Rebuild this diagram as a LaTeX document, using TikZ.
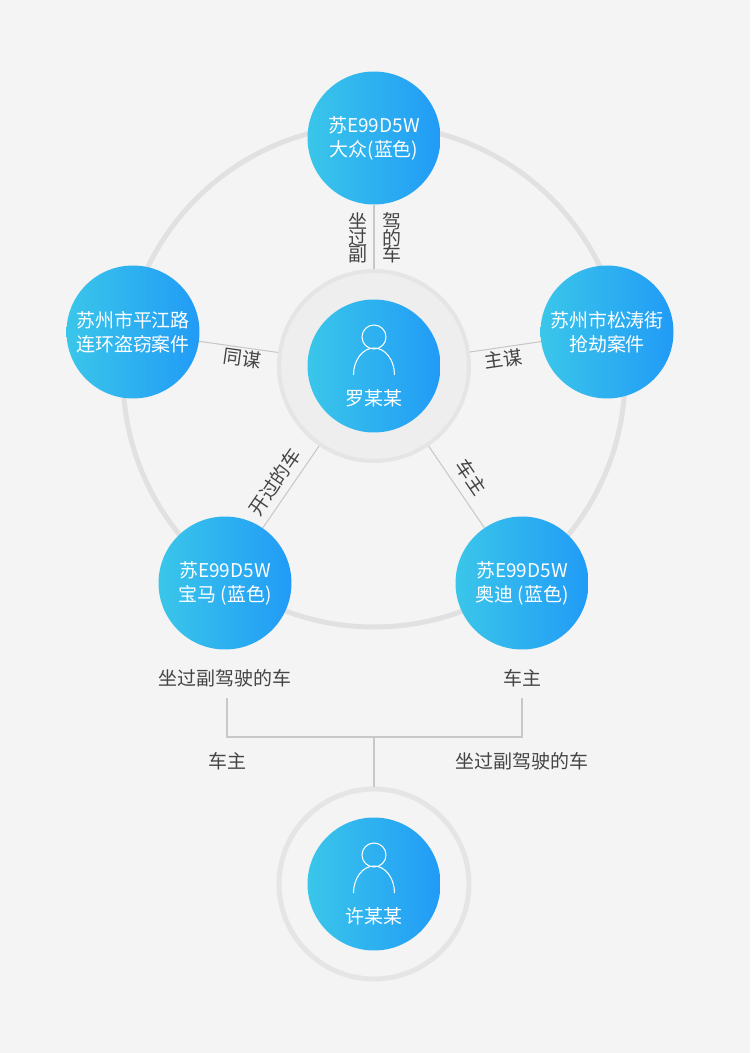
\documentclass[tikz,border=0pt]{standalone}
\usepackage{fontspec}
\setmainfont{Noto Sans CJK SC}
\usetikzlibrary{calc}
\definecolor{bg}{HTML}{F4F4F4}
\definecolor{cyanL}{HTML}{3AC6EA}
\definecolor{blueR}{HTML}{219BF6}
\definecolor{ringgray}{HTML}{E1E1E1}
\definecolor{halogray}{HTML}{EEEEEE}
\definecolor{haloedge}{HTML}{E5E5E5}
\definecolor{linegray}{HTML}{C8C8C8}
\definecolor{txtgray}{HTML}{444444}
\def\person(#1,#2){\draw[white, line width=0.6pt] (#1,#2-29) circle[radius=12];
	\draw[white, line width=0.6pt] (#1-20.5,#2+9) arc[start angle=180, end angle=360, x radius=20.5, y radius=27];}
\newcommand\tightcol{\lineskiplimit-20pt\relax}
\tikzset{
	car/.style={circle, minimum size=2.66cm, inner sep=0pt, left color=cyanL, right color=blueR, text=white, align=center, font=\fontsize{10.8}{13.7}\selectfont},
	halo/.style={circle, minimum size=3.8cm, inner sep=0pt},
	link/.style={draw=linegray, line width=0.6pt},
	tag/.style={text=txtgray, inner sep=1pt, align=center, font=\fontsize{10.8}{13}\selectfont},
	coltag/.style={tag, font={\fontsize{10.8}{9.5}\selectfont\tightcol}},
	who/.style={text=white, font=\fontsize{10.8}{13}\selectfont}
}

\begin{document}
\begin{tikzpicture}[x=0.02cm, y=-0.02cm]
			%%%%% START %%%%%
			
			\fill[bg] (0, 0) rectangle (750, 1053);
			\draw[ringgray, line width=0.1cm] (374, 376) circle[radius=251];
			
			\node[halo, fill=halogray, draw=haloedge, line width=0.08cm] (luoH) at (374, 366) {};
			\node[halo, draw=haloedge, line width=0.1cm] (xuH) at (374, 884) {};
			
			\node[car] (vw) at (374, 138) {苏E99D5W\\大众(蓝色)};
			\node[car] (theft) at (133, 332) {苏州市平江路\\连环盗窃案件};
			\node[car] (rob) at (607, 332) {苏州市松涛街\\抢劫案件};
			\node[car] (bmw) at (225, 583) {苏E99D5W\\宝马 (蓝色)};
			\node[car] (audi) at (522, 583) {苏E99D5W\\奥迪 (蓝色)};
			
			\node[car] (luo) at (374, 366) {};
			\person(374, 366)
			\node[who] (luoname) at (374, 398) {罗某某};
			
			\node[car] (xu) at (374, 884) {};
			\person(374, 884)
			\node[who] (xuname) at (374, 916) {许某某};
			
			\draw[link] (luoH) -- (vw);
			\draw[link] (luoH) -- (theft);
			\draw[link] (luoH) -- (rob);
			\draw[link] (luoH) -- (bmw);
			\draw[link] (luoH) -- (audi);
			
			\node[coltag] (rideA) at (358, 238) {坐\\过\\副};
			\node[coltag] (rideB) at (392, 238) {驾\\的\\车};
			\node[tag, rotate=-8] (plot) at (242, 358) {同谋};
			\node[tag, rotate=8.3] (lead) at (503, 359) {主谋};
			\node[tag, rotate=55.5] (drove) at (275, 482) {开过的车};
			\node[tag, rotate=-55.7] (owner) at (471, 477) {车主};
			
			\node[tag] (bmwcap) at (225, 678) {坐过副驾驶的车};
			\node[tag] (audicap) at (522, 678) {车主};
			\node[tag] (xuown) at (227, 761) {车主};
			\node[tag] (xuride) at (522, 761) {坐过副驾驶的车};
			
			\coordinate (bmwdrop) at (227, 698);
			\coordinate (audidrop) at (522, 698);
			\coordinate (barM) at (374, 737);
			\draw[link, line width=0.8pt] (bmwdrop) |- (barM) -| (audidrop);
			\draw[link, line width=0.8pt] (barM) -- (xuH);
			
			%%%%% END %%%%%
\end{tikzpicture}
\end{document}
